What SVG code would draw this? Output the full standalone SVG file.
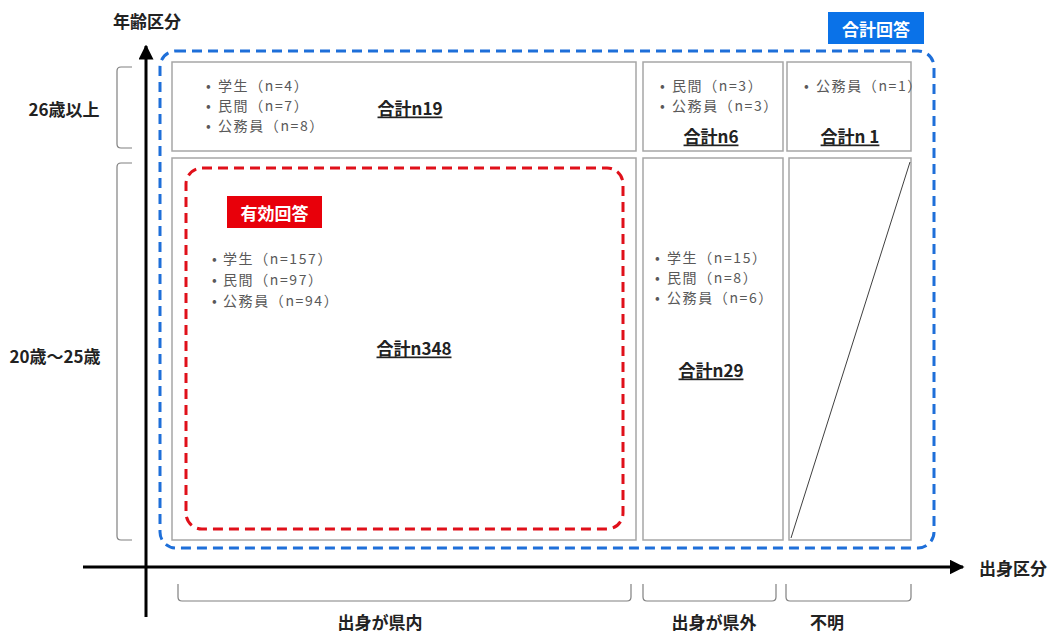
<svg xmlns="http://www.w3.org/2000/svg" width="1052" height="634" viewBox="0 0 1052 634">
<defs>
<marker id="arr" viewBox="0 0 10 10" refX="9" refY="5" markerWidth="5" markerHeight="5" orient="auto" markerUnits="strokeWidth">
<path d="M0,0 L10,5 L0,10 Z" fill="#000"/>
</marker>
<style>
.t{font-family:"Noto Sans CJK JP","Liberation Sans",sans-serif;font-size:14px;letter-spacing:1.6px;fill:#595959;dominant-baseline:central}
.b{font-family:"Noto Sans CJK JP","Liberation Sans",sans-serif;font-size:17px;font-weight:bold;fill:#222;dominant-baseline:central}
.u{text-decoration:underline}
.cell{fill:#fff;stroke:#a6a6a6;stroke-width:1.5}
.br{fill:none;stroke:#808080;stroke-width:1.2}
.ax{stroke:#000;stroke-width:3;fill:none}
</style>
</defs>
<rect width="1052" height="634" fill="#fff"/>

<g id="blue-frame">
<rect x="160" y="51" width="774" height="497" rx="16" fill="none" stroke="#1e6fd9" stroke-width="3" stroke-dasharray="10 6"/>
</g>
<g id="total-label">
<rect x="828" y="12" width="96" height="32" fill="#0a72e8"/>
<text class="b" x="876" y="28" text-anchor="middle" style="fill:#fff">合計回答</text>
</g>

<g id="cell-in-26">
<rect class="cell" x="172" y="62" width="464" height="89"/>
<text class="t" y="85"><tspan x="206">•</tspan><tspan x="218">学生（n=4）</tspan></text>
<text class="t" y="105"><tspan x="206">•</tspan><tspan x="218">民間（n=7）</tspan></text>
<text class="t" y="125"><tspan x="206">•</tspan><tspan x="218">公務員（n=8）</tspan></text>
<text class="b u" x="410" y="107" text-anchor="middle">合計n19</text>
</g>
<g id="cell-out-26">
<rect class="cell" x="643" y="62" width="140" height="89"/>
<text class="t" y="85"><tspan x="660">•</tspan><tspan x="672">民間（n=3）</tspan></text>
<text class="t" y="105"><tspan x="660">•</tspan><tspan x="672">公務員（n=3）</tspan></text>
<text class="b u" x="711" y="135" text-anchor="middle">合計n6</text>
</g>
<g id="cell-unk-26">
<rect class="cell" x="787" y="62" width="124" height="89"/>
<text class="t" y="85"><tspan x="804">•</tspan><tspan x="816">公務員（n=1）</tspan></text>
<text class="b u" x="850" y="135" text-anchor="middle">合計n 1</text>
</g>

<g id="cell-in-20">
<rect class="cell" x="172" y="158" width="464" height="382"/>
<text class="t" y="258"><tspan x="212">•</tspan><tspan x="223">学生（n=157）</tspan></text>
<text class="t" y="279"><tspan x="212">•</tspan><tspan x="223">民間（n=97）</tspan></text>
<text class="t" y="300"><tspan x="212">•</tspan><tspan x="223">公務員（n=94）</tspan></text>
<text class="b u" x="414" y="347" text-anchor="middle">合計n348</text>
</g>
<g id="cell-out-20">
<rect class="cell" x="643" y="158" width="140" height="382"/>
<text class="t" y="257"><tspan x="655">•</tspan><tspan x="667">学生（n=15）</tspan></text>
<text class="t" y="277"><tspan x="655">•</tspan><tspan x="667">民間（n=8）</tspan></text>
<text class="t" y="297"><tspan x="655">•</tspan><tspan x="667">公務員（n=6）</tspan></text>
<text class="b u" x="711" y="369" text-anchor="middle">合計n29</text>
</g>
<g id="cell-unk-20">
<rect class="cell" x="789" y="158" width="122" height="382"/>
<line x1="791" y1="538" x2="910" y2="162" stroke="#404040" stroke-width="1"/>
</g>

<g id="red-frame">
<rect x="186" y="168" width="437" height="361" rx="16" fill="none" stroke="#e0101a" stroke-width="3" stroke-dasharray="10 6"/>
<rect x="227" y="196" width="95" height="32" fill="#e8000a"/>
<text class="b" x="274.5" y="212" text-anchor="middle" style="fill:#fff">有効回答</text>
</g>

<g id="connectors">
<line class="ax" x1="146" y1="617" x2="146" y2="46" marker-end="url(#arr)"/>
<line class="ax" x1="83" y1="567" x2="963" y2="567" marker-end="url(#arr)"/>
<path class="br" d="M132,67 H121 Q117,67 117,71 V144 Q117,148 121,148 H132"/>
<path class="br" d="M132,163 H121 Q117,163 117,167 V536 Q117,540 121,540 H132"/>
<path class="br" d="M178,584 V597 Q178,601 182,601 H627 Q631,601 631,597 V584"/>
<path class="br" d="M643,584 V597 Q643,601 647,601 H772 Q776,601 776,597 V584"/>
<path class="br" d="M786,584 V597 Q786,601 790,601 H907 Q911,601 911,597 V584"/>
</g>

<g id="axis-labels">
<text class="b" x="147" y="20" text-anchor="middle">年齢区分</text>
<text class="b" x="1013" y="567" text-anchor="middle">出身区分</text>
<text class="b" x="64" y="108" text-anchor="middle">26歳以上</text>
<text class="b" x="55" y="355" text-anchor="middle">20歳～25歳</text>
<text class="b" x="380" y="621" text-anchor="middle">出身が県内</text>
<text class="b" x="714" y="621" text-anchor="middle">出身が県外</text>
<text class="b" x="827" y="621" text-anchor="middle">不明</text>
</g>
</svg>
